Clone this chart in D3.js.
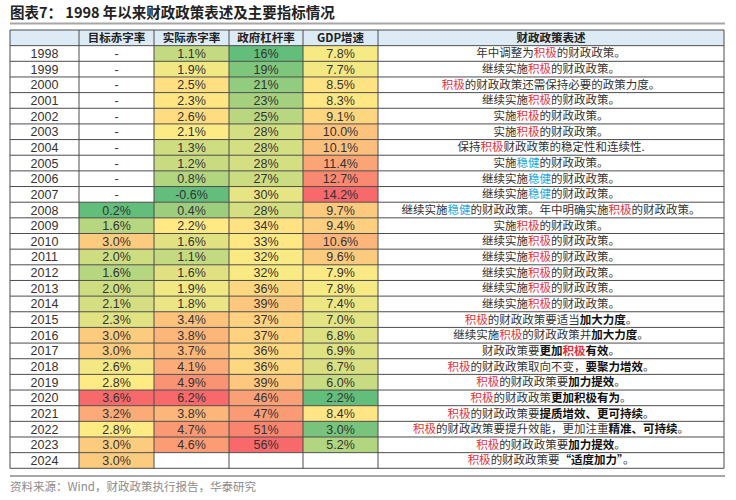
<!DOCTYPE html>
<html lang="zh">
<head>
<meta charset="utf-8">
<title>1998年以来财政政策表述及主要指标情况</title>
<script src="https://d3js.org/d3.v7.min.js"></script>
<style>
  body { margin: 0; background: #fff; }
  svg text { font-family: "Liberation Sans", Arial, "Noto Sans CJK SC", sans-serif; }
  .cjk { font-family: "Noto Sans CJK SC", sans-serif; }
</style>
</head>
<body>
<svg></svg>
<script>

// years and indicators
const years = ["1998","1999","2000","2001","2002","2003","2004","2005","2006","2007","2008","2009","2010",
  "2011","2012","2013","2014","2015","2016","2017","2018","2019","2020","2021","2022","2023","2024"];
const headers = ["", "目标赤字率", "实际赤字率", "政府杠杆率", "GDP增速", "财政政策表述"];

// null = no value ("-" for target, blank for 2024)
const targetDeficit = [null,null,null,null,null,null,null,null,null,null,
  0.2,1.6,3.0,2.0,1.6,2.0,2.1,2.3,3.0,3.0,2.6,2.8,3.6,3.2,2.8,3.0,3.0];
const actualDeficit = [1.1,1.9,2.5,2.3,2.6,2.1,1.3,1.2,0.8,-0.6,0.4,2.2,1.6,1.1,1.6,1.9,1.8,
  3.4,3.8,3.7,4.1,4.9,6.2,3.8,4.7,4.6,null];
const govLeverage = [16,19,21,23,25,28,28,28,27,30,28,34,33,32,32,36,39,37,37,36,36,39,46,47,51,56,null];
const gdpGrowth = [7.8,7.7,8.5,8.3,9.1,10.0,10.1,11.4,12.7,14.2,9.7,9.4,10.6,9.6,7.9,7.8,7.4,
  7.0,6.8,6.9,6.7,6.0,2.2,8.4,3.0,5.2,null];

// *red*  ~blue~  ^bold^  !bold red!
const statements = [
  "年中调整为*积极*的财政政策。",
  "继续实施*积极*的财政政策。",
  "*积极*的财政政策还需保持必要的政策力度。",
  "继续实施*积极*的财政政策。",
  "实施*积极*的财政政策。",
  "实施*积极*的财政政策。",
  "保持*积极*财政政策的稳定性和连续性.",
  "实施~稳健~的财政政策。",
  "继续实施~稳健~的财政政策。",
  "继续实施~稳健~的财政政策。",
  "继续实施~稳健~的财政政策。年中明确实施*积极*的财政政策。",
  "实施*积极*的财政政策。",
  "继续实施*积极*的财政政策。",
  "继续实施*积极*的财政政策。",
  "继续实施*积极*的财政政策。",
  "继续实施*积极*的财政政策。",
  "继续实施*积极*的财政政策。",
  "*积极*的财政政策要适当^加大力度^。",
  "继续实施*积极*的财政政策并^加大力度^。",
  "财政政策要^更加^!积极!^有效^。",
  "*积极*的财政政策取向不变，^要聚力增效^。",
  "*积极*的财政政策要^加力提效^。",
  "*积极*的财政政策^更加积极有为^。",
  "*积极*的财政政策要^提质增效、更可持续^。",
  "*积极*的财政政策要提升效能，更加注重^精准、可持续^。",
  "*积极*的财政政策要^加力提效^。",
  "*积极*的财政政策要^“适度加力”^。"
];

const W = 736, H = 500;
const svg = d3.select("svg").attr("width", W).attr("height", H);

// title
svg.append("text").attr("class", "cjk")
  .attr("x", 10).attr("y", 18)
  .attr("font-size", 14.5).attr("font-weight", "bold").attr("fill", "#222")
  .text("图表7： 1998 年以来财政政策表述及主要指标情况");
svg.append("line").attr("x1", 10).attr("x2", 725).attr("y1", 23.5).attr("y2", 23.5)
  .attr("stroke", "#a6a6a6").attr("stroke-width", 2);

// layout
const colEdges = [10, 79, 154, 229, 303, 378, 724];
const y = d3.scaleBand().domain(["head"].concat(years)).range([30, 468.3]);

// Excel-style 3 colour scale: min green, median yellow, max red
function colourScale(vals) {
  const v = vals.filter(d => d !== null);
  return d3.scaleLinear()
    .domain([d3.min(v), d3.median(v), d3.max(v)])
    .range(["#63BE7B", "#FFEB84", "#F8696B"])
    .interpolate(d3.interpolateRgb);
}

const numCols = [
  { vals: targetDeficit, fmt: d => d.toFixed(1) + "%", empty: "-" },
  { vals: actualDeficit, fmt: d => d.toFixed(1) + "%", empty: "" },
  { vals: govLeverage, fmt: d => d + "%", empty: "" },
  { vals: gdpGrowth, fmt: d => d.toFixed(1) + "%", empty: "" }
];

// header row
const headRow = svg.append("g");
headRow.append("rect")
  .attr("x", colEdges[0]).attr("y", y("head"))
  .attr("width", colEdges[6] - colEdges[0]).attr("height", y.bandwidth())
  .attr("fill", "#DDEBF7");
headers.forEach((h, i) => {
  headRow.append("text").attr("class", "cjk")
    .attr("x", (colEdges[i] + colEdges[i + 1]) / 2)
    .attr("y", y("head") + y.bandwidth() / 2 + 4)
    .attr("text-anchor", "middle")
    .attr("font-size", 11.5).attr("font-weight", "bold").attr("fill", "#222")
    .text(h);
});

// number cells
numCols.forEach((col, ci) => {
  const c = colourScale(col.vals);
  const g = svg.append("g");
  g.selectAll("rect").data(col.vals).join("rect")
    .attr("x", colEdges[ci + 1]).attr("y", (d, i) => y(years[i]))
    .attr("width", colEdges[ci + 2] - colEdges[ci + 1]).attr("height", y.bandwidth())
    .attr("fill", d => d === null ? "#fff" : c(d));
  g.selectAll("text").data(col.vals).join("text")
    .attr("x", (colEdges[ci + 1] + colEdges[ci + 2]) / 2)
    .attr("y", (d, i) => y(years[i]) + y.bandwidth() / 2 + 4.5)
    .attr("text-anchor", "middle").attr("font-size", 12.5).attr("fill", "#333")
    .text(d => d === null ? col.empty : col.fmt(d));
});

// year column
svg.append("g").selectAll("text").data(years).join("text")
  .attr("x", (colEdges[0] + colEdges[1]) / 2)
  .attr("y", d => y(d) + y.bandwidth() / 2 + 4.5)
  .attr("text-anchor", "middle").attr("font-size", 12.5).attr("fill", "#333")
  .text(d => d);

// statements with coloured / bold runs
const styles = {
  "*": { fill: "#E8303A", weight: "normal" },
  "~": { fill: "#1FA9E1", weight: "normal" },
  "^": { fill: "#111", weight: "bold" },
  "!": { fill: "#E8303A", weight: "bold" }
};
const stmtX = (colEdges[5] + colEdges[6]) / 2;
statements.forEach((s, i) => {
  const t = svg.append("text").attr("class", "cjk")
    .attr("x", stmtX).attr("y", y(years[i]) + y.bandwidth() / 2 + 4)
    .attr("text-anchor", "middle").attr("font-size", 11.5).attr("fill", "#333");
  s.split(/(\*[^*]+\*|~[^~]+~|\^[^^]+\^|![^!]+!)/).filter(p => p).forEach(p => {
    const st = styles[p[0]];
    if (st && p[p.length - 1] === p[0]) {
      t.append("tspan").attr("fill", st.fill).attr("font-weight", st.weight).text(p.slice(1, -1));
    } else {
      t.append("tspan").text(p);
    }
  });
});

// grid lines
const grid = svg.append("g").attr("stroke", "#4d4d4d").attr("stroke-width", 1);
grid.selectAll("line.h").data(y.domain().concat(["end"])).join("line")
  .attr("x1", colEdges[0]).attr("x2", colEdges[6])
  .attr("y1", d => d === "end" ? y.range()[1] : y(d))
  .attr("y2", d => d === "end" ? y.range()[1] : y(d));
grid.selectAll("line.v").data(colEdges).join("line")
  .attr("x1", d => d).attr("x2", d => d)
  .attr("y1", y.range()[0]).attr("y2", y.range()[1]);

// source
svg.append("line").attr("x1", 10).attr("x2", 725).attr("y1", 476).attr("y2", 476)
  .attr("stroke", "#a6a6a6").attr("stroke-width", 2);
svg.append("text").attr("class", "cjk")
  .attr("x", 10).attr("y", 491)
  .attr("font-size", 11.5).attr("fill", "#8c8c8c")
  .text("资料来源：Wind，财政政策执行报告，华泰研究");

</script>
</body>
</html>
